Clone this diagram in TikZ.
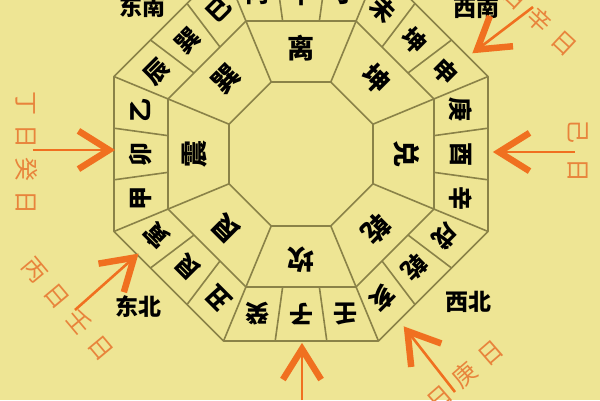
\documentclass[tikz,border=0pt]{standalone}
\usepackage{fontspec}
\newfontfamily\cjk{Noto Sans CJK SC}
\usetikzlibrary{calc}
\definecolor{bg}{HTML}{EEE594}
\definecolor{ln}{HTML}{8A8248}
\definecolor{org}{HTML}{F07020}
\definecolor{orgtxt}{HTML}{E8843C}
\begin{document}
\begin{tikzpicture}[x=1pt,y=1pt,
  ring/.style={draw=ln,line width=1.6pt,line join=round},
  mtn/.style={font=\cjk\bfseries\fontsize{24}{24}\selectfont, inner sep=0pt},
  gua/.style={font=\cjk\bfseries\fontsize{27}{27}\selectfont, inner sep=0pt},
  dirtxt/.style={font=\cjk\bfseries\fontsize{23}{23}\selectfont, inner sep=0pt},
  daytxt/.style={font=\cjk\fontsize{24}{24}\selectfont, text=orgtxt, inner sep=0pt},
  shaft/.style={draw=org,line width=2.6pt},
  head/.style={draw=org,line width=6.5pt,line join=miter}]
\fill[bg] (0,0) rectangle (600,400);
\useasboundingbox (0,0) rectangle (600,400);
\begin{scope}[shift={(301,246)}]
  \def\ra{77.93}
  \def\rb{143.96}
  \def\rc{202.4}
  \foreach \r in {\ra,\rb,\rc}{
    \draw[ring] (22.5:\r) \foreach \k in {1,...,7}{ -- ({22.5+45*\k}:\r)} -- cycle;
  }
  \foreach \k in {0,...,7}{
    \pgfmathsetmacro\a{22.5+45*\k}
    \pgfmathsetmacro\b{\a+45}
    \draw[ring] (\a:\ra) -- (\a:\rc);
    \draw[ring] ($(\a:\rb)!1/3!(\b:\rb)$) -- ($(\a:\rc)!1/3!(\b:\rc)$);
    \draw[ring] ($(\a:\rb)!2/3!(\b:\rb)$) -- ($(\a:\rc)!2/3!(\b:\rc)$);
  }
  \foreach \c [count=\i from 0] in {壬,子,癸,丑,艮,寅,甲,卯,乙,辰,巽,巳,丙,午,丁,未,坤,申,庚,酉,辛,戌,乾,亥}{
    \pgfmathtruncatemacro\s{floor(\i/3)}
    \pgfmathtruncatemacro\j{mod(\i,3)}
    \pgfmathsetmacro\t{-90-45*\s}
    \pgfmathsetmacro\tp{\t+90}
    \pgfmathsetmacro\o{44*(1-\j)}
    \pgfmathsetmacro\rot{\t-90}
    \node[mtn, rotate=\rot] (m\i) at ($(\t:160)+(\tp:\o)$) {\c};
  }
  \foreach \c [count=\i from 0] in {坎,艮,震,巽,离,坤,兑,乾}{
    \pgfmathsetmacro\t{-90-45*\i}
    \pgfmathsetmacro\rot{\t-90}
    \node[gua, rotate=\rot] (g\i) at (\t:106) {\c};
  }
\end{scope}
% direction labels
\node[dirtxt] (dse) at (142,393) {东南};
\node[dirtxt] (dsw) at (476,392) {西南};
\node[dirtxt] (dne) at (138,93) {东北};
\node[dirtxt] (dnw) at (468,98) {西北};
% orange day labels
\node[daytxt, rotate=-90] (tl) at (27,247) {丁\hspace{9pt}日\hspace{9pt}癸\hspace{9pt}日};
\node[daytxt, rotate=-90] (tr) at (578,249) {己\hspace{15pt}日};
\node[daytxt, rotate=-50] (tll) at (68,91) {丙\hspace{10pt}日\hspace{10pt}壬\hspace{10pt}日};
\node[daytxt, rotate=-43] (ttr) at (540,380) {日\hspace{10pt}辛\hspace{10pt}日};
\node[daytxt, rotate=41] (tbr) at (465,25) {日\hspace{10pt}庚\hspace{10pt}日};
% arrows
\foreach \n/\tx/\ty/\hx/\hy in {a1/533/393/474/348, a2/575/248/495/248, a3/33/250/113/250, a4/75/90/137/145, a5/302/0/302/55, a6/455/8/405/72}{
  \coordinate (\n t) at (\tx,\ty);
  \coordinate (\n h) at (\hx,\hy);
  \coordinate (\n b) at ($(\n h)!4pt!(\n t)$);
  \draw[shaft] (\n t) -- (\n b);
  \draw[head] ($(\n b)!36pt!32:(\n t)$) -- (\n b) -- ($(\n b)!36pt!-32:(\n t)$);
}
\end{tikzpicture}
\end{document}
